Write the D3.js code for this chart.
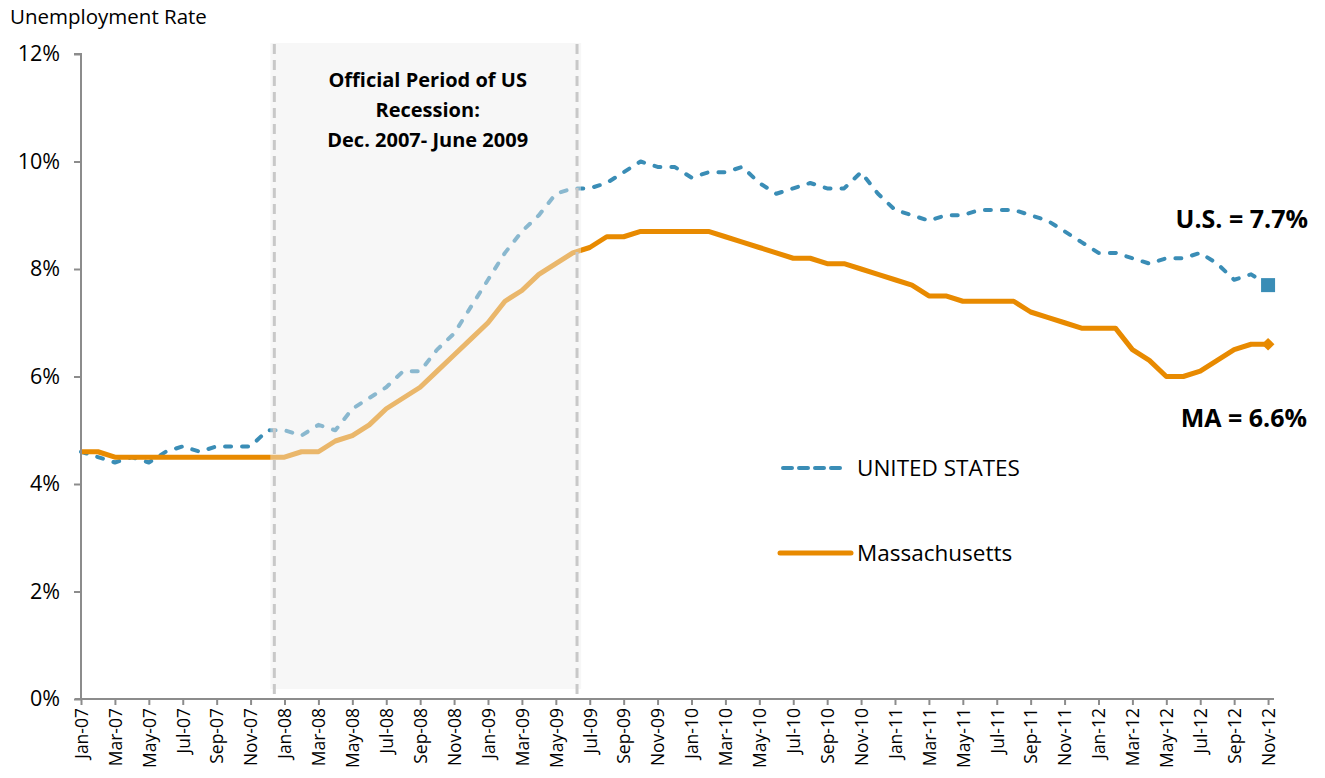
<!DOCTYPE html>
<html><head><meta charset="utf-8">
<script src="https://cdn.jsdelivr.net/npm/d3@7"></script>
<style>
body{margin:0;background:#fff;}
text{font-family:"Open Sans",sans-serif;fill:#000;}
</style>
</head><body>
<svg id="chart" width="1325" height="778"></svg>
<script>
const months = [
"Jan-07","Feb-07","Mar-07","Apr-07","May-07","Jun-07","Jul-07","Aug-07","Sep-07","Oct-07","Nov-07","Dec-07",
"Jan-08","Feb-08","Mar-08","Apr-08","May-08","Jun-08","Jul-08","Aug-08","Sep-08","Oct-08","Nov-08","Dec-08",
"Jan-09","Feb-09","Mar-09","Apr-09","May-09","Jun-09","Jul-09","Aug-09","Sep-09","Oct-09","Nov-09","Dec-09",
"Jan-10","Feb-10","Mar-10","Apr-10","May-10","Jun-10","Jul-10","Aug-10","Sep-10","Oct-10","Nov-10","Dec-10",
"Jan-11","Feb-11","Mar-11","Apr-11","May-11","Jun-11","Jul-11","Aug-11","Sep-11","Oct-11","Nov-11","Dec-11",
"Jan-12","Feb-12","Mar-12","Apr-12","May-12","Jun-12","Jul-12","Aug-12","Sep-12","Oct-12","Nov-12"];
const usRate = [
4.6,4.5,4.4,4.5,4.4,4.6,4.7,4.6,4.7,4.7,4.7,5.0,
5.0,4.9,5.1,5.0,5.4,5.6,5.8,6.1,6.1,6.5,6.8,7.3,
7.8,8.3,8.7,9.0,9.4,9.5,9.5,9.6,9.8,10.0,9.9,9.9,
9.7,9.8,9.8,9.9,9.6,9.4,9.5,9.6,9.5,9.5,9.8,9.4,
9.1,9.0,8.9,9.0,9.0,9.1,9.1,9.1,9.0,8.9,8.7,8.5,
8.3,8.3,8.2,8.1,8.2,8.2,8.3,8.1,7.8,7.9,7.7];
const maRate = [
4.6,4.6,4.5,4.5,4.5,4.5,4.5,4.5,4.5,4.5,4.5,4.5,
4.5,4.6,4.6,4.8,4.9,5.1,5.4,5.6,5.8,6.1,6.4,6.7,
7.0,7.4,7.6,7.9,8.1,8.3,8.4,8.6,8.6,8.7,8.7,8.7,
8.7,8.7,8.6,8.5,8.4,8.3,8.2,8.2,8.1,8.1,8.0,7.9,
7.8,7.7,7.5,7.5,7.4,7.4,7.4,7.4,7.2,7.1,7.0,6.9,
6.9,6.9,6.5,6.3,6.0,6.0,6.1,6.3,6.5,6.6,6.6];
const yTicks = [0,2,4,6,8,10,12];
const seriesNames = ["UNITED STATES","Massachusetts"];
const recessionStart = 11.4;   // Dec 2007 (month index)
const recessionEnd = 29.25;    // June 2009 (month index)
const recessionLabel = ["Official Period of US","Recession:","Dec. 2007- June 2009"];
const endLabels = ["U.S. = 7.7%","MA = 6.6%"];

const US_COLOR = "#3A8DB6", MA_COLOR = "#E88A00", AXIS = "#8C8C8C";
const svg = d3.select("#chart");
const x = d3.scaleLinear().domain([0, 70.35]).range([81, 1274]);
const y = d3.scaleLinear().domain([0, 12]).range([699, 54]);

// lines
const line = d3.line().x((d,i)=>x(i)).y(d=>y(d));
svg.append("path").datum(usRate).attr("d", line)
  .attr("fill","none").attr("stroke",US_COLOR).attr("stroke-width",4)
  .attr("stroke-dasharray","6,11").attr("stroke-linecap","round").attr("stroke-linejoin","round");
svg.append("path").datum(maRate).attr("d", line)
  .attr("fill","none").attr("stroke",MA_COLOR).attr("stroke-width",5)
  .attr("stroke-linejoin","round");

// recession shading (semi-transparent veil over the lines)
svg.append("rect")
  .attr("x", x(recessionStart)-4).attr("y", y(12)-11)
  .attr("width", x(recessionEnd)-x(recessionStart)+8)
  .attr("height", y(0)-y(12)+1)
  .attr("fill","#ededed").attr("fill-opacity",0.45);
[recessionStart, recessionEnd].forEach(v=>{
  svg.append("line").attr("x1",x(v)).attr("x2",x(v))
    .attr("y1",y(12)-10).attr("y2",y(0))
    .attr("stroke","#c8c8c8").attr("stroke-width",3).attr("stroke-dasharray","10,6");
});
const mid = (x(recessionStart)+x(recessionEnd))/2;
recessionLabel.forEach((t,i)=>{
  svg.append("text").attr("x",mid+2).attr("y",[87,117,147][i])
    .attr("text-anchor","middle").attr("font-size",20).attr("font-weight","bold").text(t);
});

// end markers
const last = usRate.length-1;
svg.append("rect").attr("x",x(last)-7).attr("y",y(usRate[last])-7)
  .attr("width",14).attr("height",14).attr("fill",US_COLOR);
svg.append("path").attr("d", d3.symbol().type(d3.symbolSquare).size(81)())
  .attr("transform",`translate(${x(last)},${y(maRate[last])}) rotate(45)`)
  .attr("fill",MA_COLOR);

// axes
const yAxis = d3.axisLeft(y).tickValues(yTicks).tickFormat(d=>d+"%").tickSize(7).tickPadding(14);
const gy = svg.append("g").attr("transform",`translate(${x(0)},0)`).call(yAxis);
gy.select(".domain").attr("stroke",AXIS).attr("stroke-width",2).attr("d",`M-7,${y(12)}H0V${y(0)}`);
gy.selectAll(".tick line").attr("stroke",AXIS).attr("stroke-width",2);
gy.selectAll(".tick text").attr("font-size",21.5).attr("font-family","Open Sans").attr("fill","#000");

const xAxis = d3.axisBottom(x).tickValues(d3.range(0, months.length, 2))
  .tickFormat(i=>months[i]).tickSize(6).tickSizeOuter(0);
const gx = svg.append("g").attr("transform",`translate(0,${y(0)})`).call(xAxis);
gx.select(".domain").attr("stroke",AXIS).attr("stroke-width",2).attr("d",`M${x(0)-6},0H${x(70.35)}`);
gx.selectAll(".tick line").attr("stroke",AXIS).attr("stroke-width",2);
gx.selectAll(".tick text").attr("font-size",17.5).attr("font-family","Open Sans").attr("fill","#000")
  .attr("transform","rotate(-90)").attr("text-anchor","end")
  .attr("x",-9).attr("y",0).attr("dy","0.36em");

// title
svg.append("text").attr("x",10).attr("y",24).attr("font-size",20.5).text("Unemployment Rate");

// legend
const legY = [468, 553];
svg.append("line").attr("x1",783).attr("x2",845).attr("y1",legY[0]).attr("y2",legY[0])
  .attr("stroke",US_COLOR).attr("stroke-width",4).attr("stroke-dasharray","9,7").attr("stroke-linecap","round");
svg.append("line").attr("x1",780).attr("x2",851).attr("y1",legY[1]).attr("y2",legY[1])
  .attr("stroke",MA_COLOR).attr("stroke-width",5).attr("stroke-linecap","round");
seriesNames.forEach((n,i)=>{
  svg.append("text").attr("x",857).attr("y",legY[i]).attr("dy","0.35em").attr("font-size",22.5).text(n);
});

// end labels
svg.append("text").attr("x",1308).attr("y",228).attr("text-anchor","end")
  .attr("font-size",25).attr("font-weight","bold").text(endLabels[0]);
svg.append("text").attr("x",1307).attr("y",427).attr("text-anchor","end")
  .attr("font-size",25).attr("font-weight","bold").text(endLabels[1]);
</script>
</body></html>
